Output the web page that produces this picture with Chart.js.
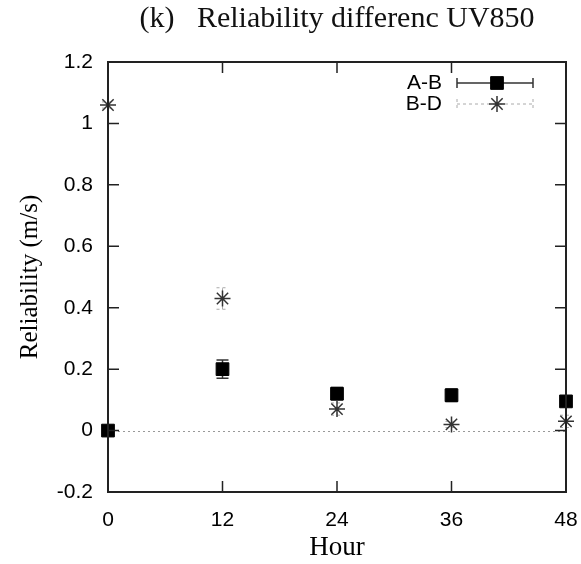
<!DOCTYPE html>
<html>
<head>
<meta charset="utf-8">
<script src="https://cdn.jsdelivr.net/npm/chart.js@4.4.1/dist/chart.umd.min.js"></script>
<style>body{margin:0;background:#fff}</style>
</head>
<body>
<canvas id="c" width="581" height="564"></canvas>
<script>
const hours = [0, 12, 24, 36, 48]
const abValues = [0, 0.20, 0.12, 0.115, 0.095]
const abErrors = [0.01, 0.03, 0.02, 0.02, 0.015]
const bdValues = [1.06, 0.43, 0.07, 0.02, 0.03]
const bdErrors = [0.01, 0.035, 0.02, 0.01, 0.02]
const seriesNames = ['A-B', 'B-D']
const xTicks = [0, 12, 24, 36, 48]
const yTicks = [-0.2, 0, 0.2, 0.4, 0.6, 0.8, 1, 1.2]

const serif = "'Liberation Serif', 'DejaVu Serif', serif"
const sans = "'Liberation Sans', Arial, sans-serif"

// gnuplot style: zero line, error bars, inward mirrored ticks, key
const gnuplotLook = {
	id: 'gnuplotLook',
	beforeDatasetsDraw(chart) {
		const { ctx, chartArea: a, scales: { x, y } } = chart
		ctx.save()
		ctx.strokeStyle = '#999'
		ctx.lineWidth = 1
		ctx.setLineDash([2, 3])
		let y0 = Math.round(y.getPixelForValue(0)) + 0.5
		ctx.beginPath()
		ctx.moveTo(a.left, y0)
		ctx.lineTo(a.right, y0)
		ctx.stroke()
		ctx.setLineDash([])

		chart.data.datasets.forEach(ds => {
			ctx.strokeStyle = ds.errorColor
			ctx.lineWidth = ds.errorWidth
			ctx.setLineDash(ds.errorDash)
			ds.data.forEach((p, i) => {
				let px = x.getPixelForValue(p.x)
				let lo = y.getPixelForValue(p.y - ds.errors[i])
				let hi = y.getPixelForValue(p.y + ds.errors[i])
				ctx.beginPath()
				ctx.moveTo(px, lo); ctx.lineTo(px, hi)
				ctx.moveTo(px - 6, lo); ctx.lineTo(px + 6, lo)
				ctx.moveTo(px - 6, hi); ctx.lineTo(px + 6, hi)
				ctx.stroke()
			})
		})
		ctx.restore()
	},
	afterDraw(chart) {
		const { ctx, chartArea: a, scales: { x, y } } = chart
		ctx.save()
		ctx.strokeStyle = '#222'
		ctx.lineWidth = 2
		ctx.strokeRect(a.left, a.top, a.right - a.left, a.bottom - a.top)
		ctx.lineWidth = 1.5
		ctx.beginPath()
		xTicks.forEach(v => {
			let px = x.getPixelForValue(v)
			ctx.moveTo(px, a.bottom); ctx.lineTo(px, a.bottom - 11)
			ctx.moveTo(px, a.top); ctx.lineTo(px, a.top + 11)
		})
		yTicks.forEach(v => {
			let py = y.getPixelForValue(v)
			ctx.moveTo(a.left, py); ctx.lineTo(a.left + 11, py)
			ctx.moveTo(a.right, py); ctx.lineTo(a.right - 11, py)
		})
		ctx.stroke()

		// key
		const rows = [83, 104]
		ctx.font = '21px ' + sans
		ctx.textAlign = 'right'
		ctx.textBaseline = 'middle'
		chart.data.datasets.forEach((ds, i) => {
			let ry = rows[i]
			ctx.fillStyle = '#000'
			ctx.fillText(seriesNames[i], 442, ry)
			ctx.strokeStyle = ds.errorColor
			ctx.lineWidth = ds.errorWidth
			ctx.setLineDash(ds.errorDash)
			ctx.beginPath()
			ctx.moveTo(457, ry); ctx.lineTo(533, ry)
			ctx.moveTo(457, ry - 5); ctx.lineTo(457, ry + 5)
			ctx.moveTo(533, ry - 5); ctx.lineTo(533, ry + 5)
			ctx.stroke()
			ctx.setLineDash([])
			ctx.fillStyle = ds.backgroundColor
			ctx.strokeStyle = ds.borderColor
			ctx.lineWidth = ds.borderWidth
			Chart.helpers.drawPoint(ctx, { pointStyle: ds.pointStyle, radius: ds.pointRadius, rotation: 0, borderWidth: ds.borderWidth }, 497, ry)
		})
		ctx.restore()
	}
}

new Chart(document.getElementById('c'), {
	type: 'scatter',
	data: {
		datasets: [{
			label: seriesNames[0],
			data: hours.map((h, i) => ({ x: h, y: abValues[i] })),
			errors: abErrors,
			errorColor: '#333', errorWidth: 1.5, errorDash: [],
			pointStyle: 'rect', pointRadius: 9,
			backgroundColor: '#000', borderColor: '#000', borderWidth: 1,
			clip: false
		}, {
			label: seriesNames[1],
			data: hours.map((h, i) => ({ x: h, y: bdValues[i] })),
			errors: bdErrors,
			errorColor: '#aaa', errorWidth: 1, errorDash: [3, 3],
			pointStyle: 'star', pointRadius: 8,
			backgroundColor: '#333', borderColor: '#333', borderWidth: 1.5,
			clip: false
		}]
	},
	options: {
		responsive: false,
		animation: false,
		layout: { padding: { right: 3 } },
		plugins: {
			legend: { display: false },
			tooltip: { enabled: false },
			title: {
				display: true,
				fullSize: false,
				text: '(k)   Reliability differenc UV850',
				color: '#111',
				font: { family: serif, size: 30, weight: 'normal' },
				padding: { top: 1, bottom: 25 }
			}
		},
		scales: {
			x: {
				type: 'linear', min: 0, max: 48,
				afterBuildTicks: s => { s.ticks = xTicks.map(v => ({ value: v })) },
				afterFit: s => { s.height = 72; s.paddingLeft = 0; s.paddingRight = 15 },
				grid: { display: false, drawTicks: false },
				border: { display: false },
				ticks: { color: '#000', padding: 16, font: { family: sans, size: 21 } },
				title: { display: true, text: 'Hour', color: '#000', font: { family: serif, size: 27 }, padding: { top: 0, bottom: 0 } }
			},
			y: {
				type: 'linear', min: -0.2, max: 1.2,
				afterBuildTicks: s => { s.ticks = yTicks.map(v => ({ value: v })) },
				afterFit: s => { s.width = 108 },
				grid: { display: false, drawTicks: false },
				border: { display: false },
				ticks: { color: '#000', padding: 15, font: { family: sans, size: 21 }, callback: v => String(+v.toFixed(1)) },
				title: { display: true, text: 'Reliability (m/s)', color: '#000', font: { family: serif, size: 25 }, padding: { top: 15, bottom: 0 } }
			}
		}
	},
	plugins: [gnuplotLook]
})
</script>
</body>
</html>
